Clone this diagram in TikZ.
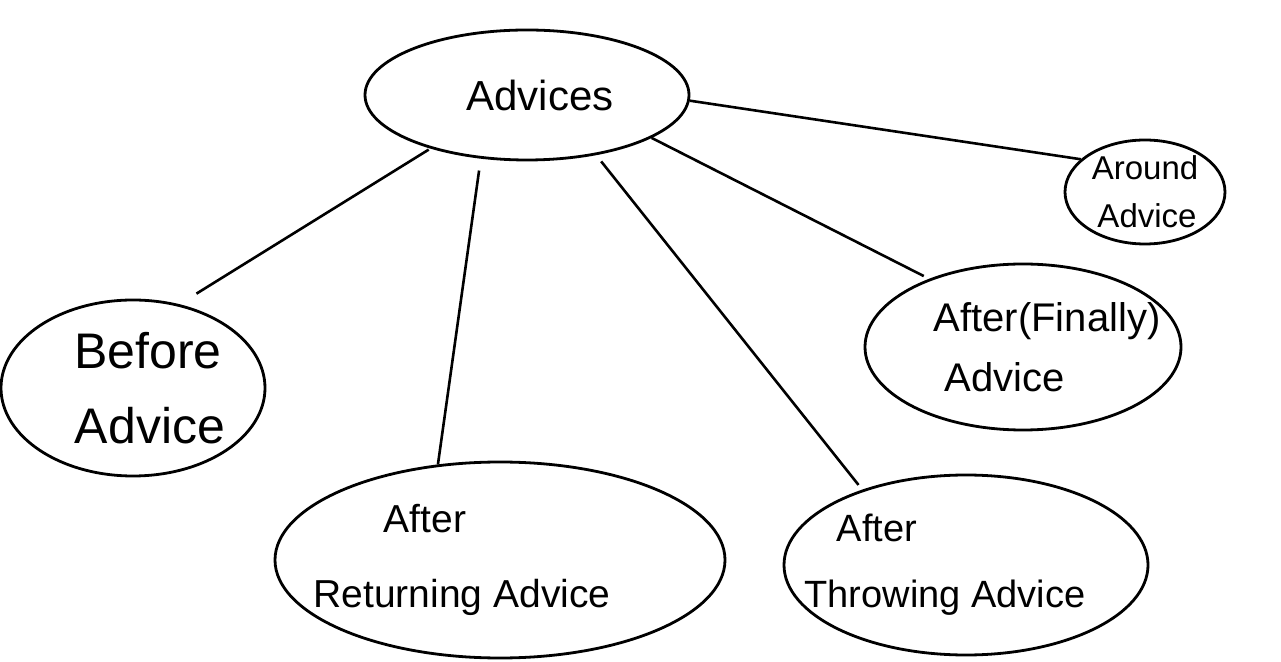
\documentclass[tikz,border=0pt]{standalone}
\usepackage{fontspec}
\setmainfont{Liberation Sans}
\usetikzlibrary{shapes.geometric}
\newcommand{\shifttext}[2]{\makebox[0pt]{\hspace*{#1}#2}}
\tikzset{
  bub/.style={draw=black, line width=2.8pt, ellipse, inner sep=0pt, align=center},
  link/.style={draw=black, line width=2.6pt},
}
\begin{document}
\begin{tikzpicture}[x=1pt,y=1pt]
\useasboundingbox[fill=white] (0,0) rectangle (1281,661);
\node[bub, minimum width=324pt, minimum height=130pt, font=\fontsize{42}{44}\selectfont] (adv) at (527,566) {\shifttext{26pt}{Advices}};
\node[bub, minimum width=160pt, minimum height=104pt, font=\fontsize{33}{48}\selectfont] (aro) at (1145,469) {\shifttext{0pt}{Around}\\\shifttext{4pt}{Advice}};
\node[bub, minimum width=316pt, minimum height=166pt, font=\fontsize{40}{60}\selectfont] (fin) at (1023,314) {\shifttext{48pt}{After(Finally)}\\\shifttext{-36pt}{Advice}};
\node[bub, minimum width=264pt, minimum height=176pt, font=\fontsize{50}{75}\selectfont] (bef) at (133,273) {\shifttext{30pt}{Before}\\\shifttext{34pt}{Advice}};
\node[bub, minimum width=450pt, minimum height=196pt, font=\fontsize{39}{75}\selectfont] (ret) at (500,101) {\shifttext{-150pt}{After}\\\shifttext{-76pt}{Returning Advice}};
\node[bub, minimum width=364pt, minimum height=180pt, font=\fontsize{38}{66}\selectfont] (thr) at (966,96) {\shifttext{-178pt}{After}\\\shifttext{-42pt}{Throwing Advice}};
\draw[link, shorten >=20pt, shorten <=2pt] (adv.209) -- (bef.61);
\draw[link, shorten <=12pt] (adv.234) -- (ret.123);
\draw[link, shorten <=8pt, shorten >=6pt] (adv.319) -- (thr.144);
\draw[link, shorten >=6pt] (adv.341) -- (fin.144);
\draw[link] (adv.358) -- (aro.153);
\end{tikzpicture}
\end{document}
